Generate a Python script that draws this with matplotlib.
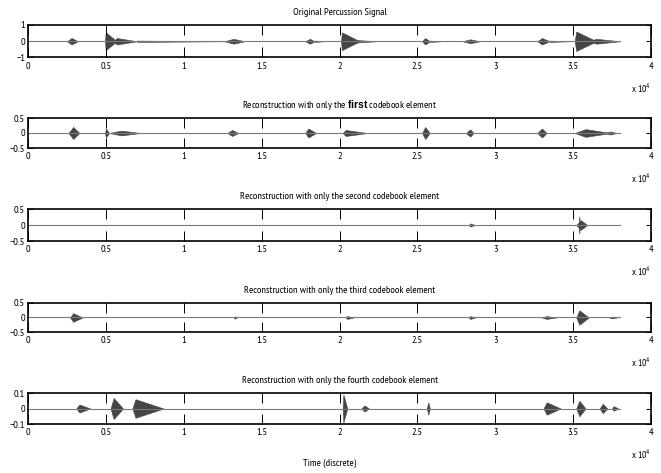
import matplotlib
matplotlib.use('Agg')
import matplotlib.pyplot as plt

plt.rcParams['font.family'] = ['PT Sans Narrow', 'Archivo Narrow', 'DejaVu Sans']
plt.rcParams['mathtext.fontset'] = 'custom'
plt.rcParams['mathtext.bf'] = 'Liberation Sans:bold'
plt.rcParams['mathtext.rm'] = 'PT Sans Narrow'

n_samples = 38000
x_ticks = [0, 5000, 10000, 15000, 20000, 25000, 30000, 35000, 40000]
x_tick_labels = ['0', '0.5', '1', '1.5', '2', '2.5', '3', '3.5', '4']

titles = ['Original Percussion Signal',
          r'Reconstruction with only the $\mathbf{first}$ codebook element',
          'Reconstruction with only the second codebook element',
          'Reconstruction with only the third codebook element',
          'Reconstruction with only the fourth codebook element']
y_max = [1, 0.5, 0.5, 0.5, 0.1]
y_tick_labels = [['\u22121', '0', '1'],
                 ['\u22120.5', '0', '0.5'],
                 ['\u22120.5', '0', '0.5'],
                 ['\u22120.5', '0', '0.5'],
                 ['\u22120.1', '0', '0.1']]

# bursts: onset, peak, end (samples), peak amplitude
original_start = [2500, 4940, 5500, 7000, 12600, 17800, 18400, 20100, 20800, 25300, 25800, 27900, 32700, 33500, 35100, 36000]
original_peak = [2800, 4990, 5700, 7000, 13200, 18100, 18400, 20150, 21000, 25500, 25800, 28400, 33000, 33500, 35200, 36500]
original_end = [3200, 5700, 7000, 12600, 13900, 18400, 19000, 21300, 22400, 25800, 26600, 29000, 33500, 34800, 36500, 38000]
original_amp = [0.2, 0.55, 0.2, 0.04, 0.15, 0.15, 0.04, 0.55, 0.08, 0.2, 0.04, 0.12, 0.2, 0.04, 0.6, 0.15]

first_start = [2600, 4950, 5200, 12800, 17800, 20200, 25300, 28100, 32700, 35100, 37000]
first_peak = [2900, 5000, 6000, 13100, 18000, 20400, 25500, 28400, 33000, 35800, 37400]
first_end = [3300, 5200, 7200, 13500, 18500, 21800, 25800, 28600, 33300, 37400, 37800]
first_amp = [0.2, 0.15, 0.08, 0.1, 0.15, 0.1, 0.2, 0.12, 0.15, 0.13, 0.05]

second_start = [28300, 35200, 35350]
second_peak = [28400, 35500, 35400]
second_end = [28700, 35900, 35450]
second_amp = [0.05, 0.15, 0.27]

third_start = [2700, 13200, 20400, 28300, 33000, 35200, 37300]
third_peak = [2900, 13300, 20500, 28400, 33300, 35400, 37500]
third_end = [3500, 13400, 20900, 28700, 33900, 36000, 37800]
third_amp = [0.15, 0.04, 0.05, 0.05, 0.05, 0.25, 0.03]

fourth_start = [3100, 5300, 6700, 20200, 21400, 25600, 33100, 35200, 36700, 37500]
fourth_peak = [3300, 5500, 6900, 20250, 21600, 25700, 33300, 35400, 36900, 37600]
fourth_end = [4000, 6100, 8700, 20500, 21900, 25800, 34200, 35800, 37200, 37900]
fourth_amp = [0.026, 0.068, 0.06, 0.09, 0.02, 0.04, 0.04, 0.05, 0.03, 0.015]

bursts = [(original_start, original_peak, original_end, original_amp),
          (first_start, first_peak, first_end, first_amp),
          (second_start, second_peak, second_end, second_amp),
          (third_start, third_peak, third_end, third_amp),
          (fourth_start, fourth_peak, fourth_end, fourth_amp)]

# axes boxes in pixels: top, bottom
boxes = [(25, 57.5), (118, 148), (209, 241), (303, 332), (393, 424)]

W, H = 661, 473
fig = plt.figure(figsize=(W / 100, H / 100), dpi=100)
for i in range(5):
    top, bot = boxes[i]
    ax = fig.add_axes([28 / W, 1 - bot / H, (651 - 28) / W, (bot - top) / H])
    ax.plot([0, n_samples], [0, 0], color='#7a7a7a', lw=0.8)
    starts, peaks, ends, amps = bursts[i]
    for s, p, e, a in zip(starts, peaks, ends, amps):
        ax.fill_between([s, p, e], [0, -a, 0], [0, a, 0], color='#454545', lw=0.4, edgecolor='#454545')
    ax.set_xlim(0, 40000)
    ax.set_ylim(-y_max[i], y_max[i])
    ax.set_xticks(x_ticks)
    ax.set_xticklabels(x_tick_labels)
    ax.set_yticks([-y_max[i], 0, y_max[i]])
    ax.set_yticklabels(y_tick_labels[i])
    ax.tick_params(axis='x', direction='in', top=True, length=7.2, width=0.7, labelsize=7.5, pad=3)
    ax.tick_params(axis='y', direction='in', right=True, length=3.6, width=0.7, labelsize=7.5, pad=2)
    for sp in ax.spines.values():
        sp.set_linewidth(1.2)
    ax.set_title(titles[i], fontsize=7.5, pad=7)
    ax.annotate(r'x 10$^{4}$', xy=(1.0, 0), xycoords='axes fraction', xytext=(0, -22),
                textcoords='offset points', ha='right', va='center', fontsize=7)

fig.text(330 / W, 1 - 463 / H, 'Time (discrete)', ha='center', va='center', fontsize=7.5)
fig.savefig('out.png', dpi=100, facecolor='white')
